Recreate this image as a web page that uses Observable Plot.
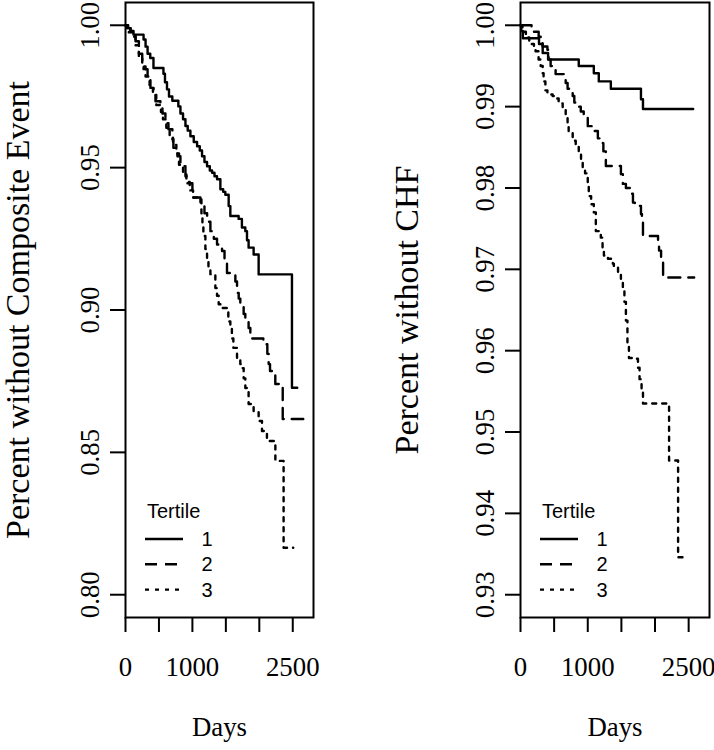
<!DOCTYPE html>
<html><head><meta charset="utf-8">
<script src="https://cdn.jsdelivr.net/npm/d3@7"></script>
<script src="https://cdn.jsdelivr.net/npm/@observablehq/plot@0.6"></script>
<style>
body{margin:0;background:#fff;}
#wrap{position:relative;width:714px;height:750px;display:flex;}
.panel{position:relative;width:357px;height:750px;}
.panel svg.leg{position:absolute;left:0;top:0;pointer-events:none;}
svg.kmplot text{font-family:'Liberation Serif','Times New Roman',serif !important;font-variant:normal !important;font-variant-numeric:normal !important;}
</style></head><body><div id="wrap"></div>
<script>
// ---------- data ----------
const xTicks = [0, 500, 1000, 1500, 2000, 2500];
const xTickLabels = ["0", "", "1000", "", "", "2500"];
const xTitle = "Days";

const compYTicks = [0.80, 0.85, 0.90, 0.95, 1.00];
const compYLabels = ["0.80", "0.85", "0.90", "0.95", "1.00"];
const compYTitle = "Percent without Composite Event";

const chfYTicks = [0.93, 0.94, 0.95, 0.96, 0.97, 0.98, 0.99, 1.00];
const chfYLabels = ["0.93", "0.94", "0.95", "0.96", "0.97", "0.98", "0.99", "1.00"];
const chfYTitle = "Percent without CHF";

const legendTitle = "Tertile";
const tertiles = ["1", "2", "3"];

const compT1Days = [0,30,75,120,270,300,330,370,418,567,590,620,650,700,790,821,860,896,930,970,1020,1070,1110,1144,1180,1219,1260,1294,1330,1368,1418,1460,1492,1542,1567,1691,1740,1791,1816,1840,1915,1990,2488,2567];
const compT1Surv = [1.000,0.999,0.998,0.9967,0.995,0.9925,0.990,0.9885,0.985,0.983,0.980,0.9775,0.975,0.9735,0.9715,0.969,0.967,0.9646,0.963,0.961,0.959,0.9575,0.956,0.954,0.952,0.9505,0.949,0.9482,0.947,0.9459,0.9424,0.9415,0.9405,0.9365,0.933,0.932,0.929,0.9277,0.9245,0.9219,0.9195,0.9125,0.8727,0.8727];

const compT2Days = [0,40,75,150,200,250,270,330,373,420,448,522,552,597,642,701,716,776,821,896,925,1000,1015,1120,1180,1220,1269,1320,1368,1443,1480,1517,1642,1667,1692,1716,1766,1791,1840,1866,2060,2120,2140,2160,2239,2350,2657];
const compT2Surv = [1.0,0.999,0.998,0.9944,0.990,0.987,0.9846,0.9814,0.978,0.976,0.9733,0.971,0.969,0.9656,0.9635,0.960,0.957,0.954,0.9505,0.947,0.9445,0.941,0.9395,0.937,0.934,0.931,0.9277,0.925,0.923,0.9207,0.917,0.913,0.910,0.906,0.904,0.902,0.8986,0.896,0.8937,0.890,0.888,0.8846,0.881,0.8786,0.874,0.8617,0.8617];

const compT3Days = [0,20,50,100,150,200,250,300,360,410,460,530,560,610,660,710,760,800,860,910,960,1010,1135,1150,1164,1194,1219,1240,1269,1343,1368,1393,1418,1537,1567,1590,1612,1667,1716,1741,1766,1791,1840,1915,1990,2040,2114,2240,2363,2507];
const compT3Surv = [1.0,0.999,0.9975,0.996,0.993,0.989,0.9855,0.982,0.979,0.9755,0.972,0.9695,0.967,0.964,0.961,0.958,0.955,0.951,0.948,0.945,0.942,0.9395,0.934,0.930,0.926,0.9214,0.918,0.915,0.9126,0.9077,0.905,0.902,0.9007,0.896,0.8937,0.890,0.8867,0.883,0.881,0.8796,0.876,0.8726,0.867,0.8645,0.861,0.8575,0.854,0.847,0.8165,0.8165];

const chfT1Days = [0,10,35,275,330,410,866,1090,1164,1343,1791,1821,2567];
const chfT1Surv = [1.0,0.9993,0.9984,0.9977,0.9966,0.9958,0.995,0.9941,0.9931,0.9922,0.9909,0.9897,0.9897];

const chfT2Days = [0,164,270,300,328,400,418,448,522,672,700,776,800,821,896,940,1000,1075,1150,1224,1232,1269,1493,1522,1567,1640,1672,1700,1791,1805,1821,2045,2060,2090,2120,2582];
const chfT2Surv = [1.0,0.9992,0.9986,0.998,0.9974,0.997,0.9958,0.995,0.994,0.9929,0.9922,0.9913,0.9905,0.990,0.9894,0.9888,0.9876,0.987,0.9861,0.9855,0.9845,0.9827,0.9817,0.9805,0.980,0.9793,0.9782,0.9778,0.9768,0.976,0.9741,0.9735,0.9723,0.9714,0.969,0.969];

const chfT3Days = [0,30,80,130,150,200,224,269,300,330,343,370,400,478,522,567,627,672,700,716,776,821,866,900,925,960,1000,1015,1050,1090,1120,1194,1220,1240,1300,1373,1388,1450,1493,1522,1545,1567,1590,1612,1672,1746,1770,1800,1821,2209,2343,2463];
const chfT3Surv = [1.0,0.9992,0.9985,0.998,0.9977,0.9974,0.9968,0.9958,0.995,0.9941,0.9931,0.992,0.9915,0.9913,0.991,0.9904,0.9897,0.9888,0.9875,0.9868,0.9858,0.9852,0.9843,0.9835,0.9825,0.9818,0.9802,0.979,0.978,0.977,0.9747,0.9739,0.9727,0.9717,0.9713,0.9707,0.9702,0.9695,0.9688,0.9677,0.966,0.9637,0.961,0.9591,0.959,0.9579,0.9565,0.955,0.9535,0.9465,0.9346,0.9346];

// ---------- styles ----------
const dashes = [null, "12,8", "4,6"];
const FS = 26.8;
const TITLE_FS = 34;
const LW = 2.4;
const SERIF = "'Liberation Serif', 'Times New Roman', serif";
const SANS = "'Liberation Sans', Arial, sans-serif";

function rows(days, surv) { return days.map((d, i) => ({day: d, surv: surv[i]})); }

function makePanel(cfg) {
  const marks = [
    Plot.axisX({ticks: xTicks, tickFormat: d => xTickLabels[xTicks.indexOf(d)], tickSize: 15, tickPadding: 24, strokeWidth: 2, fontSize: FS, fontFamily: SERIF, label: null}),
    Plot.axisY({ticks: cfg.yTicks, tickFormat: d => cfg.yLabels[cfg.yTicks.indexOf(d)], tickSize: 15, tickRotate: -90, tickPadding: 12, strokeWidth: 2, fontSize: FS, fontFamily: SERIF, label: null}),
    ...cfg.series.map((s, i) => Plot.line(rows(s[0], s[1]), {x: "day", y: "surv", curve: "step-after", stroke: "black", strokeWidth: LW, strokeDasharray: dashes[i]})),
    Plot.frame({stroke: "black", strokeWidth: 2}),
    Plot.text([cfg.yTitle], {text: d => d, frameAnchor: "left", textAnchor: "middle", rotate: -90, dx: cfg.titleDx, fontSize: TITLE_FS, fontFamily: SERIF}),
    Plot.text([xTitle], {text: d => d, frameAnchor: "bottom", textAnchor: "middle", dy: 118, fontSize: FS, fontFamily: SERIF})
  ];
  const chart = Plot.plot({
    className: "kmplot",
    width: 357, height: 750,
    marginTop: 2, marginBottom: 133, marginLeft: cfg.marginLeft, marginRight: cfg.marginRight,
    x: {domain: [0, 2810]},
    y: {domain: cfg.yDomain},
    style: {fontFamily: SERIF, background: "white", color: "black", overflow: "visible"},
    marks
  });
  chart.classList.add("kmplot");
  const div = document.createElement("div");
  div.className = "panel";
  div.appendChild(chart);
  // legend
  const ns = "http://www.w3.org/2000/svg";
  const svg = document.createElementNS(ns, "svg");
  svg.setAttribute("class", "leg");
  svg.setAttribute("width", 357); svg.setAttribute("height", 750);
  const L = cfg.marginLeft, B = 617;
  const t = document.createElementNS(ns, "text");
  t.setAttribute("x", L + 22); t.setAttribute("y", B - 106);
  t.setAttribute("dominant-baseline", "central");
  t.setAttribute("font-family", SANS);
  t.setAttribute("font-size", 20);
  t.textContent = legendTitle;
  svg.appendChild(t);
  tertiles.forEach((lab, i) => {
    const y = B - 78 + 25.3 * i;
    const ln = document.createElementNS(ns, "line");
    ln.setAttribute("x1", L + 20); ln.setAttribute("x2", L + 58);
    ln.setAttribute("y1", y); ln.setAttribute("y2", y);
    ln.setAttribute("stroke", "black"); ln.setAttribute("stroke-width", LW);
    if (dashes[i]) ln.setAttribute("stroke-dasharray", dashes[i]);
    svg.appendChild(ln);
    const tx = document.createElementNS(ns, "text");
    tx.setAttribute("x", L + 82); tx.setAttribute("y", y);
    tx.setAttribute("text-anchor", "middle");
    tx.setAttribute("dominant-baseline", "central");
    tx.setAttribute("font-family", SANS);
    tx.setAttribute("font-size", 20);
    tx.textContent = lab;
    svg.appendChild(tx);
  });
  div.appendChild(svg);
  return div;
}

const wrap = document.getElementById("wrap");
wrap.appendChild(makePanel({
  marginLeft: 125, marginRight: 44, yDomain: [0.792, 1.008],
  yTicks: compYTicks, yLabels: compYLabels, yTitle: compYTitle, titleDx: -107,
  series: [[compT1Days, compT1Surv], [compT2Days, compT2Surv], [compT3Days, compT3Surv]]
}));
wrap.appendChild(makePanel({
  marginLeft: 163, marginRight: 5, yDomain: [0.9272, 1.0028],
  yTicks: chfYTicks, yLabels: chfYLabels, yTitle: chfYTitle, titleDx: -113,
  series: [[chfT1Days, chfT1Surv], [chfT2Days, chfT2Surv], [chfT3Days, chfT3Surv]]
}));
</script></body></html>
